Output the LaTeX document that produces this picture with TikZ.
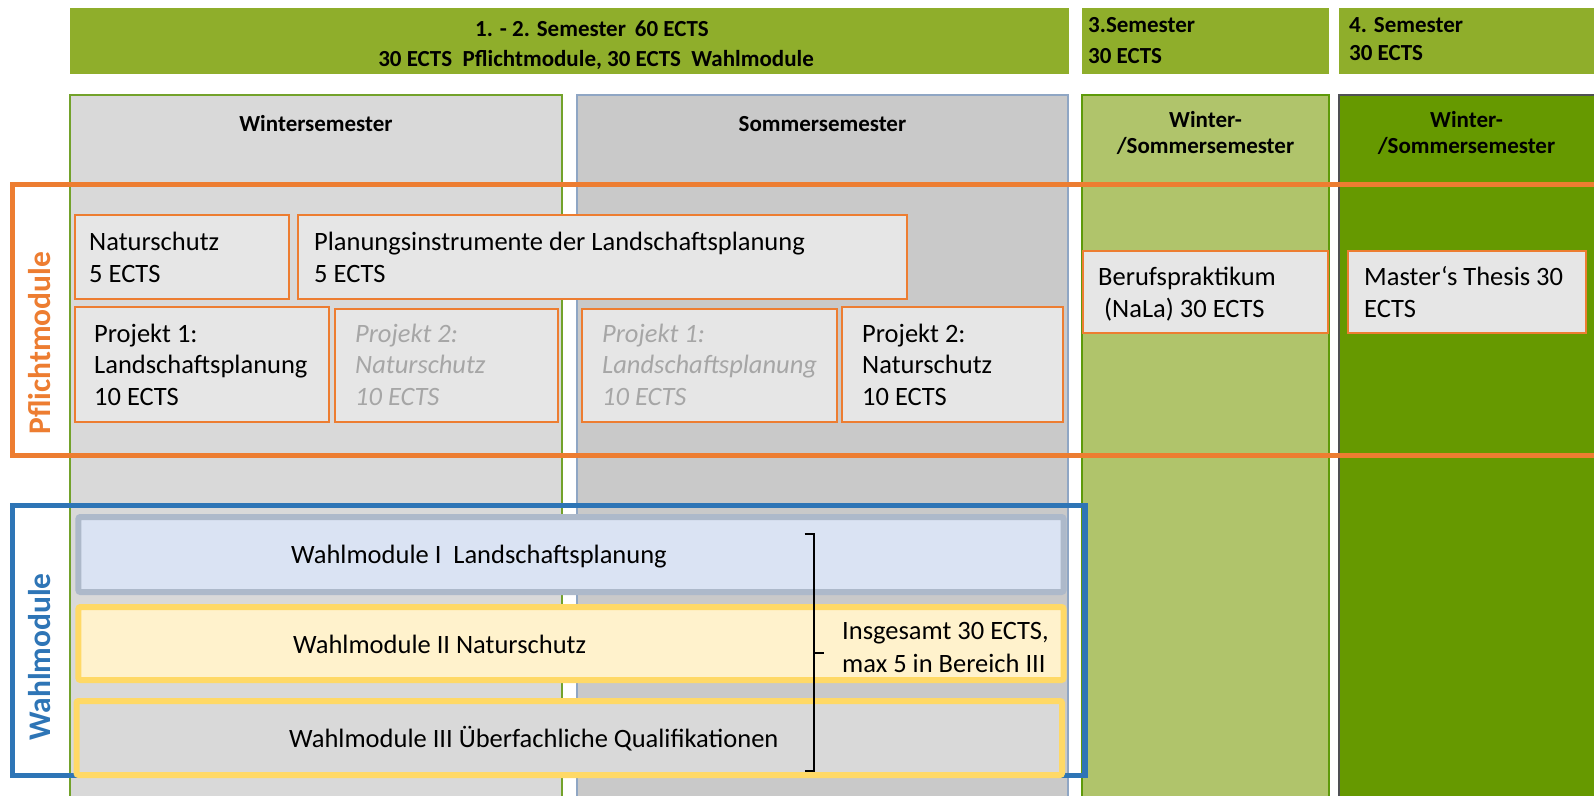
\documentclass[tikz,border=0pt]{standalone}
\usepackage{fontspec}
\setmainfont{Carlito}
\definecolor{hdrgreen}{HTML}{8FAE2B}
\definecolor{col3fill}{HTML}{B0C46B}
\definecolor{col4fill}{HTML}{669900}
\definecolor{col1fill}{HTML}{D9D9D9}
\definecolor{col2fill}{HTML}{C9C9C9}
\definecolor{col1line}{HTML}{73A22B}
\definecolor{col2line}{HTML}{8FA6C4}
\definecolor{col3line}{HTML}{5E9A0A}
\definecolor{col4line}{HTML}{4F5054}
\definecolor{orangeC}{HTML}{ED7D31}
\definecolor{blueC}{HTML}{2E75B6}
\definecolor{boxgrey}{HTML}{E6E6E6}
\definecolor{greyT}{HTML}{A6A6A6}
\definecolor{wmIfill}{HTML}{DAE3F3}
\definecolor{wmIline}{HTML}{ADB9CA}
\definecolor{wmIIfill}{HTML}{FFF2CC}
\definecolor{wmyellow}{HTML}{FFD966}
\begin{document}
\begin{tikzpicture}[x=1pt,y=-1pt,
  hdr/.style={fill=hdrgreen},
  pbox/.style={draw=orangeC, line width=2pt, fill=boxgrey},
  btxt/.style={anchor=base west, align=left, inner sep=0pt, font=\fontsize{26.5}{31.5}\selectfont},
  gtxt/.style={btxt, text=greyT, font=\fontsize{26.5}{31.5}\selectfont\itshape},
  htxt/.style={anchor=base, inner sep=0pt, font=\fontsize{23}{28}\selectfont\bfseries},
  wbox/.style={line width=6pt, rounded corners=2pt},
  vlabel/.style={rotate=90, inner sep=0pt, font=\fontsize{31.5}{32}\selectfont\bfseries},
]
\useasboundingbox (0,0) rectangle (1594,795);
\fill[white] (0,0) rectangle (1594,795);
\clip (0,0) rectangle (1594,795);

% header bars
\fill[hdr] (70,8) rectangle (1069,74);
\fill[hdr] (1082,8) rectangle (1329,74);
\fill[hdr] (1339,8) rectangle (1600,74);
\node[htxt] (h1a) at (592,36) {1. - 2. Semester\ \,60 ECTS};
\node[htxt] (h1b) at (596,66.5) {30 ECTS\ \ Pflichtmodule, 30 ECTS\ \ Wahlmodule};
\node[htxt, anchor=base west] (h2a) at (1088,32) {3.Semester};
\node[htxt, anchor=base west] (h2b) at (1088,63) {30 ECTS};
\node[htxt, anchor=base west] (h3a) at (1349,32) {4. Semester};
\node[htxt, anchor=base west] (h3b) at (1349,60) {30 ECTS};

% columns
\draw[fill=col1fill, draw=col1line, line width=1.5pt] (70,95) rectangle (562,820);
\draw[fill=col2fill, draw=col2line, line width=1.5pt] (577,95) rectangle (1068,820);
\draw[fill=col3fill, draw=col3line, line width=1.5pt] (1082,95) rectangle (1329,820);
\draw[fill=col4fill, draw=col4line, line width=1.5pt] (1339,95) rectangle (1620,820);
\node[htxt] (c1) at (316,131) {Wintersemester};
\node[htxt] (c2) at (822.5,131) {Sommersemester};
\node[htxt] (c3a) at (1205.5,127) {Winter-};
\node[htxt] (c3b) at (1205.5,153) {/Sommersemester};
\node[htxt] (c4a) at (1466.5,127) {Winter-};
\node[htxt] (c4b) at (1466.5,153) {/Sommersemester};

% frames
\draw[orangeC, line width=5.5pt] (12.5,184.5) rectangle (1640,455.5);
\node[vlabel, text=orangeC] (lp) at (40,343.5) {Pflichtmodule};
\draw[blueC, line width=5.5pt] (12.5,505.5) rectangle (1085,775.5);
\node[vlabel, text=blueC] (lw) at (40,657) {Wahlmodule};

% Pflicht boxes (text anchored at the baseline of the last line)
\path[pbox] (74.5,215) rectangle (288.7,299);
\path[pbox] (298.4,215) rectangle (907,299);
\path[pbox] (74.5,307) rectangle (329,422);
\path[pbox] (335,309) rectangle (558,422);
\path[pbox] (582,309) rectangle (837,422);
\path[pbox] (842,307) rectangle (1063,422);
\path[pbox] (1083,251) rectangle (1328,333);
\path[pbox] (1348,251) rectangle (1586,333);
\node[btxt] (nat) at (89,282) {Naturschutz\\5 ECTS};
\node[btxt] (plan) at (314,282) {Planungsinstrumente der Landschaftsplanung\\5 ECTS};
\node[btxt] (p1w) at (94,405) {Projekt 1:\\Landschaftsplanung\\10 ECTS};
\node[gtxt] (p2w) at (355,405) {Projekt 2:\\Naturschutz\\10 ECTS};
\node[gtxt] (p1s) at (602,405) {Projekt 1:\\Landschaftsplanung\\10 ECTS};
\node[btxt] (p2s) at (862,405) {Projekt 2:\\Naturschutz\\10 ECTS};
\node[btxt] (ber) at (1098,317) {Berufspraktikum\\\hspace*{6pt}(NaLa) 30 ECTS};
\node[btxt] (mas) at (1364,317) {Master‘s Thesis 30\\ECTS};

% Wahl boxes
\draw[wbox, draw=wmIline, fill=wmIfill] (78.4,517) rectangle (1063.5,592);
\draw[wbox, draw=wmyellow, fill=wmIIfill] (78.4,607) rectangle (1063.5,680);
\draw[wbox, draw=wmyellow, fill=col1fill] (76.5,701) rectangle (1062,775);
\node[btxt] (w1) at (291,563) {Wahlmodule I\ \ Landschaftsplanung};
\node[btxt] (w2) at (293,653) {Wahlmodule II Naturschutz};
\node[btxt] (w3) at (289,747) {Wahlmodule III Überfachliche Qualifikationen};

% brace
\coordinate (bT) at (814,534);
\coordinate (bB) at (814,771);
\coordinate (bM) at (814,652.7);
\draw[line width=2pt] ([xshift=-9.5pt]bT) -- (bT) -- (bB) -- ([xshift=-9.5pt]bB);
\draw[line width=2pt] (bM) -- ([xshift=9.5pt]bM);
\node[btxt, font=\fontsize{26.5}{33}\selectfont] (ins) at (842,672) {Insgesamt 30 ECTS,\\max 5 in Bereich III};
\end{tikzpicture}
\end{document}
